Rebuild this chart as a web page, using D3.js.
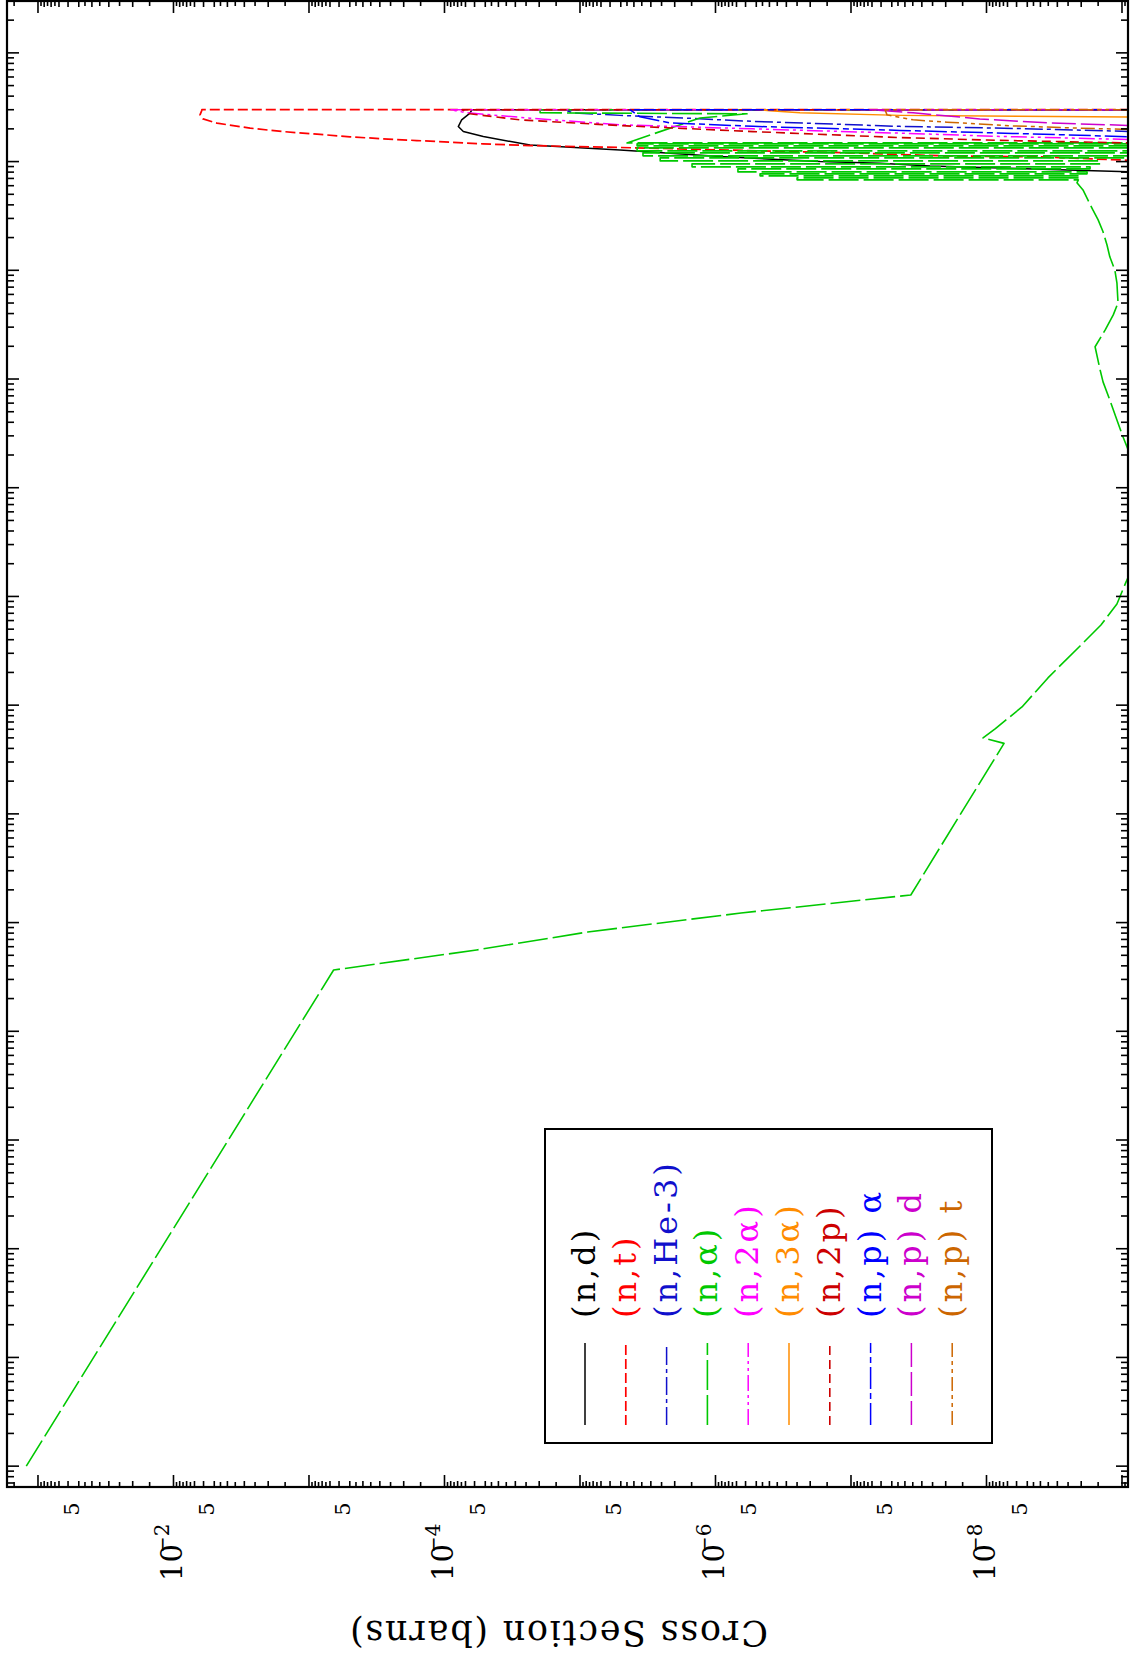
<!DOCTYPE html>
<html><head><meta charset="utf-8">
<script src="https://cdn.jsdelivr.net/npm/d3@7/dist/d3.min.js"></script>
<style>body{margin:0;background:#fff;} svg{display:block;}</style>
</head><body>
<svg id="chart" width="1131" height="1661"></svg>
<script>
// ---------------- data (energy in eV, cross section in barns) ----------------
const energyRange = [6.43e-6, 3.0e8];
const sigmaRange = [0.1693, 9.03e-10];

const seriesNames = ["(n,d)", "(n,t)", "(n,He-3)", "(n,\u03b1)", "(n,2\u03b1)", "(n,3\u03b1)", "(n,2p)", "(n,p) \u03b1", "(n,p) d", "(n,p) t"];

const nd = [[7.9e6,5e-10],[9.13e6,2.61e-8],[9.67e6,6.10e-8],[1.0e7,1.69e-7],[1.112e7,9.27e-7],[1.281e7,5.07e-6],[1.42e7,2.34e-5],[1.698e7,5.17e-5],[1.888e7,7.26e-5],[2.099e7,7.91e-5],[2.42e7,7.47e-5],[2.79e7,6.48e-5],[3.0e7,6.27e-5],[3.0e7,5e-10]];

const nt = [[1.0e7,5e-10],[1.105e7,4.03e-9],[1.129e7,2.09e-8],[1.203e7,1.02e-7],[1.255e7,4.69e-7],[1.323e7,2.56e-6],[1.404e7,2.34e-5],[1.456e7,5.20e-5],[1.508e7,9.1e-5],[1.561e7,1.60e-4],[1.62e7,2.84e-4],[1.69e7,4.98e-4],[1.787e7,8.73e-4],[1.888e7,1.56e-3],[2.03e7,2.72e-3],[2.256e7,4.77e-3],[2.47e7,6.05e-3],[2.69e7,6.37e-3],[2.93e7,6.2e-3],[3.0e7,6.17e-3],[3.0e7,5e-10]];

const nHe3 = [[1.86e7,5e-10],[2.02e7,6.37e-9],[2.108e7,4.35e-8],[2.343e7,5.28e-7],[2.508e7,1.62e-6],[2.661e7,5.07e-6],[2.81e7,1.13e-5],[3.0e7,1.33e-5],[3.0e7,5e-10]];

const nAlpha = [
  [1e-5,1.22e-1],[0.366,6.58e-4],[0.560,5.80e-5],[0.819,8.77e-6],[1.225,6.48e-7],[1.795,3.62e-8],
  [44.5,7.42e-9],[49.9,1.06e-8],[60.9,8.59e-9],[96.3,5.47e-9],[178,3.52e-9],[225,2.92e-9],
  [350,2.04e-9],[546,1.43e-9],[852,1.09e-9],[1360,9.33e-10],[7.7e3,5e-10],[2.23e4,9.0e-10],
  [2.93e4,9.82e-10],[4.20e4,1.09e-9],[6.42e4,1.23e-9],[9.41e4,1.38e-9],[1.21e5,1.45e-9],
  [1.98e5,1.58e-9],[2.83e5,1.33e-9],[3.89e5,1.16e-9],[5.01e5,1.07e-9],[7.67e5,1.09e-9],
  [1.01e6,1.13e-9],[1.33e6,1.23e-9],[1.71e6,1.29e-9],[2.26e6,1.38e-9],[2.91e6,1.50e-9],
  [3.59e6,1.64e-9],[5.49e6,1.94e-9],[6.38e6,2.15e-9],
  [6.79e6,2.1e-9],[6.79e6,2.50e-7],[7.08e6,2.50e-7],[7.08e6,2.04e-9],[7.39e6,2.04e-9],[7.39e6,4.69e-7],
  [7.71e6,4.69e-7],[7.71e6,1.81e-9],[8.04e6,1.81e-9],[8.04e6,6.83e-7],[8.57e6,6.83e-7],[8.57e6,1.72e-9],
  [8.94e6,1.72e-9],[8.94e6,1.49e-6],[9.53e6,1.49e-6],[9.53e6,1.45e-9],[1.015e7,1.45e-9],[1.015e7,2.56e-6],
  [1.082e7,2.56e-6],[1.082e7,8e-10],[1.129e7,8e-10],[1.129e7,3.43e-6],[1.203e7,3.43e-6],[1.203e7,8e-10],
  [1.255e7,8e-10],[1.255e7,3.79e-6],[1.337e7,3.79e-6],[1.337e7,8e-10],[1.395e7,8e-10],[1.395e7,3.79e-6],
  [1.456e7,3.79e-6],[1.456e7,8e-10],[1.486e7,8e-10],[1.486e7,4.50e-6],
  [2.52e7,1.30e-6],[2.75e7,5.85e-7],[2.81e7,1.97e-5],[3.0e7,1.97e-5],[3.0e7,5e-10]
];

const n2Alpha = [[1.57e7,5e-10],[1.705e7,7.94e-9],[1.825e7,4.35e-8],[2.0e7,5.28e-7],[2.18e7,5.07e-6],[2.508e7,2.34e-5],[2.81e7,6.82e-5],[3.0e7,9.1e-5],[3.0e7,5e-10]];

const n3Alpha = [[2.55e7,5e-10],[2.661e7,4.35e-8],[2.81e7,2.38e-7],[2.93e7,3.96e-7],[3.0e7,4.69e-7],[3.0e7,5e-10]];

const n2p = [[1.464e7,5e-10],[1.567e7,7.94e-9],[1.663e7,4.35e-8],[1.888e7,5.28e-7],[2.144e7,5.07e-6],[2.42e7,2.77e-5],[2.75e7,6.48e-5],[3.0e7,7.42e-5],[3.0e7,5e-10]];

const npAlpha = [[1.66e7,5e-10],[1.817e7,6.37e-9],[1.936e7,4.35e-8],[2.108e7,5.28e-7],[2.27e7,2.17e-6],[2.58e7,3.61e-6],[3.0e7,4.28e-6],[3.0e7,5e-10]];

const npD = [[2.10e7,5e-10],[2.27e7,3.57e-9],[2.47e7,1.12e-8],[2.81e7,3.48e-8],[3.0e7,7.24e-8],[3.0e7,5e-10]];

const npT = [[1.94e7,5e-10],[2.03e7,2.04e-9],[2.13e7,6.37e-9],[2.304e7,1.96e-8],[2.42e7,3.48e-8],[2.69e7,5.42e-8],[3.0e7,5.61e-8],[3.0e7,5e-10]];

const seriesData = [nd, nt, nHe3, nAlpha, n2Alpha, n3Alpha, n2p, npAlpha, npD, npT];

// tick values
const sigmaMajorTicks = [1e-1,1e-2,1e-3,1e-4,1e-5,1e-6,1e-7,1e-8,1e-9];
const sigmaMinorMultiples = [1.5,2,2.5,3,3.5,4,4.5,5,6,7,7.5,8,8.5,9,9.5];
const sigmaFiveLabels = [5e-2,5e-3,5e-4,5e-5,5e-6,5e-7,5e-8,5e-9];
const sigmaDecadeExponents = [-2,-4,-6,-8];
const energyMajorTicks = [1e-5,1e-4,1e-3,1e-2,1e-1,1,1e1,1e2,1e3,1e4,1e5,1e6,1e7,1e8];
const energyMinorMultiples = [2,3,4,5,6,7,8,9];

// ---------------- styles ----------------
const seriesColors = ["#000000","#ff0000","#1010cc","#00c800","#ff00ff","#ff8c00","#cc0000","#0000ff","#cc00cc","#cc6600"];
const seriesDash = [null,"10,4","18,4,4,4","30,5","16,4,3,4,3,4",null,"9,5","22,4,6,4","24,5","14,4,4,4,4,4"];
const seriesWidth = [1.5,1.7,1.5,1.6,1.5,1.5,1.6,1.5,1.5,1.5];

// ---------------- drawing ----------------
const W = 1131, H = 1661;
const P = {left:7, right:1128, top:1, bottom:1487};
const svg = d3.select("#chart");
svg.append("rect").attr("width",W).attr("height",H).attr("fill","#fff");

const x = d3.scaleLog().domain(sigmaRange).range([P.left, P.right]);
const y = d3.scaleLog().domain(energyRange).range([P.bottom, P.top]);

svg.append("defs").append("clipPath").attr("id","clip")
  .append("rect").attr("x",P.left).attr("y",P.top).attr("width",P.right-P.left).attr("height",P.bottom-P.top);

const line = d3.line().x(d => x(d[1])).y(d => y(d[0]));
const curves = svg.append("g").attr("clip-path","url(#clip)");
seriesData.forEach((data,i) => {
  curves.append("path").attr("d", line(data)).attr("fill","none")
    .attr("stroke", seriesColors[i]).attr("stroke-width", seriesWidth[i])
    .attr("stroke-dasharray", seriesDash[i]).attr("stroke-linejoin","round");
});

// ticks
const axisG = svg.append("g").attr("stroke","#000").attr("stroke-width",1.6);
const inSig = v => v <= sigmaRange[0] && v >= sigmaRange[1];
const inE = v => v >= energyRange[0] && v <= energyRange[1];
const sigTicks = [];
sigmaMajorTicks.forEach(v => { if (inSig(v)) sigTicks.push({v, len:12}); });
[1e-10,1e-9,1e-8,1e-7,1e-6,1e-5,1e-4,1e-3,1e-2,1e-1].forEach(dec => {
  sigmaMinorMultiples.forEach(m => { const v = m*dec; if (inSig(v)) sigTicks.push({v, len: Number.isInteger(m) ? 6 : 5}); });
});
sigTicks.forEach(t => {
  const xx = x(t.v);
  axisG.append("line").attr("x1",xx).attr("x2",xx).attr("y1",P.bottom).attr("y2",P.bottom-t.len);
  axisG.append("line").attr("x1",xx).attr("x2",xx).attr("y1",P.top).attr("y2",P.top+t.len);
});
const eTicks = [];
energyMajorTicks.forEach(v => { if (inE(v)) eTicks.push({v, len:12}); });
d3.range(-6,9).forEach(k => {
  energyMinorMultiples.forEach(m => { const v = m*Math.pow(10,k); if (inE(v)) eTicks.push({v, len:7}); });
});
eTicks.forEach(t => {
  const yy = y(t.v);
  axisG.append("line").attr("x1",P.left).attr("x2",P.left+t.len).attr("y1",yy).attr("y2",yy);
  axisG.append("line").attr("x1",P.right).attr("x2",P.right-t.len).attr("y1",yy).attr("y2",yy);
});

// frame
svg.append("rect").attr("x",P.left).attr("y",P.top).attr("width",P.right-P.left).attr("height",P.bottom-P.top)
  .attr("fill","none").attr("stroke","#000").attr("stroke-width",2.2);

// tick labels
const font = "'DejaVu Serif', serif";
sigmaFiveLabels.forEach(v => {
  svg.append("text").attr("transform",`translate(${x(v)},1509) rotate(-90)`)
    .attr("text-anchor","middle").attr("font-family",font).attr("font-size",21).attr("fill","#000").text("5");
});
sigmaDecadeExponents.forEach(e => {
  const t = svg.append("text").attr("transform",`translate(${x(Math.pow(10,e))},1581) rotate(-90)`)
    .attr("dy","0.31em").attr("font-family",font).attr("font-size",29).attr("fill","#000");
  t.append("tspan").text("10");
  t.append("tspan").attr("font-size",20).attr("dx",-9).attr("dy",-13).text("\u2212" + Math.abs(e));
});
svg.append("text").attr("transform","translate(559,1632) rotate(180)")
  .attr("text-anchor","middle").attr("dy","0.31em").attr("font-family",font).attr("font-size",35)
  .attr("textLength",418).attr("lengthAdjust","spacing").attr("fill","#000").text("Cross Section (barns)");

// legend
const L = {x0:545, y0:1129, x1:992, y1:1443};
svg.append("rect").attr("x",L.x0).attr("y",L.y0).attr("width",L.x1-L.x0).attr("height",L.y1-L.y0)
  .attr("fill","#fff").attr("stroke","#000").attr("stroke-width",2);
seriesNames.forEach((name,i) => {
  const cx = 585 + i*40.8;
  svg.append("line").attr("x1",cx).attr("x2",cx).attr("y1",1425).attr("y2",1343)
    .attr("stroke",seriesColors[i]).attr("stroke-width",seriesWidth[i]).attr("stroke-dasharray",seriesDash[i]);
  svg.append("text").attr("transform",`translate(${cx},1318) rotate(-90)`)
    .attr("dy","0.31em").attr("font-family",font).attr("font-size",32).attr("letter-spacing",3)
    .attr("fill",seriesColors[i]).text(name);
});
</script>
</body></html>
